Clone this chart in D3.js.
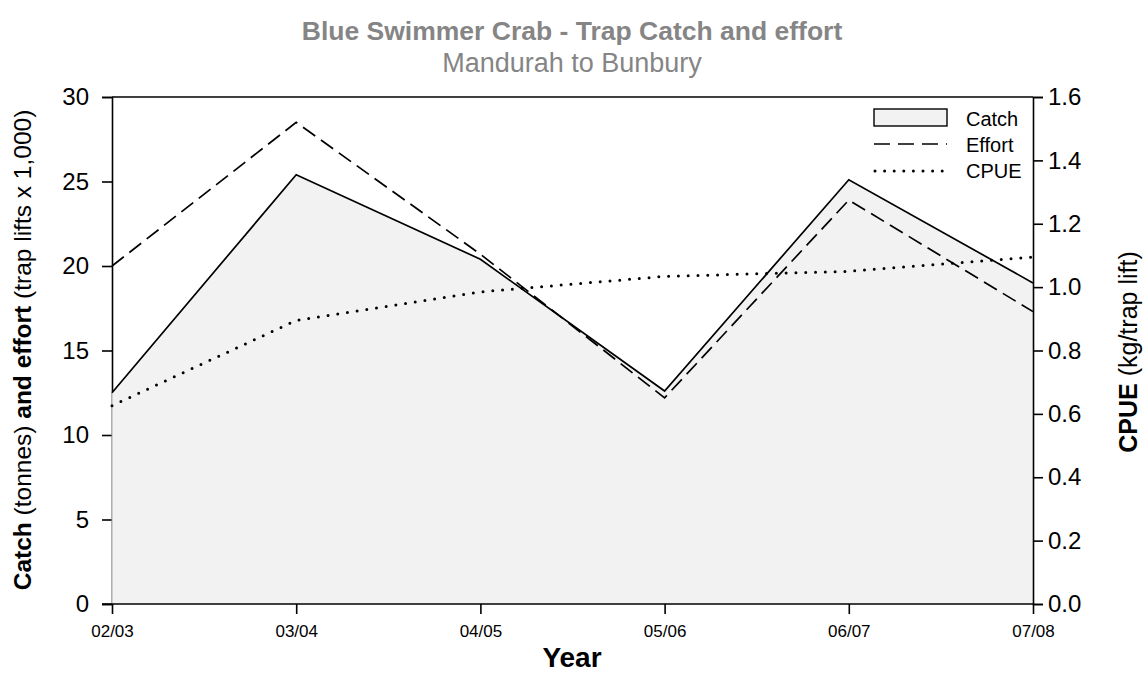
<!DOCTYPE html>
<html>
<head>
<meta charset="utf-8">
<script src="https://cdn.jsdelivr.net/npm/d3@7"></script>
<style>
  html, body { margin: 0; padding: 0; background: #fff; }
  svg { display: block; font-family: "Liberation Sans", Arial, sans-serif; }
</style>
</head>
<body>
<svg id="chart" width="1148" height="696"></svg>
<script>
// Seasons and series
const years = ["02/03", "03/04", "04/05", "05/06", "06/07", "07/08"];
const catchTonnes = [12.5, 25.4, 20.4, 12.6, 25.1, 19.0];
const effortLifts = [20.0, 28.5, 20.7, 12.2, 23.9, 17.3];
const cpue = [0.626, 0.895, 0.985, 1.034, 1.05, 1.095];
const leftTicks = [0, 5, 10, 15, 20, 25, 30];
const rightTicks = [0, 0.2, 0.4, 0.6, 0.8, 1.0, 1.2, 1.4, 1.6];

const svg = d3.select("#chart");
const plot = { left: 112, right: 1033, top: 97, bottom: 604 };

const x = d3.scalePoint().domain(years).range([plot.left, plot.right]);
const yL = d3.scaleLinear().domain([0, 30]).range([plot.bottom, plot.top]);
const yR = d3.scaleLinear().domain([0, 1.6]).range([plot.bottom, plot.top]);

const rows = years.map((yr, i) => ({ yr, c: catchTonnes[i], e: effortLifts[i], p: cpue[i] }));

// Titles
svg.append("text").attr("x", 572).attr("y", 40).attr("text-anchor", "middle")
  .attr("fill", "#858585").attr("font-weight", "bold").attr("font-size", 26.5)
  .text("Blue Swimmer Crab - Trap Catch and effort");
svg.append("text").attr("x", 572).attr("y", 72).attr("text-anchor", "middle")
  .attr("fill", "#858585").attr("font-size", 27)
  .text("Mandurah to Bunbury");

// Left axis (the catch area is painted over it)
const leftAxis = svg.append("g").attr("transform", `translate(${plot.left},0)`)
  .call(d3.axisLeft(yL).tickValues(leftTicks).tickSize(10).tickPadding(13).tickFormat(d3.format("d")));
leftAxis.selectAll("path, line").attr("stroke", "#000").attr("stroke-width", 1.6);
leftAxis.selectAll("text").attr("font-size", 24).attr("fill", "#000").attr("font-family", "inherit");

// Top frame
svg.append("line").attr("x1", plot.left).attr("x2", plot.right)
  .attr("y1", plot.top).attr("y2", plot.top).attr("stroke", "#000").attr("stroke-width", 1.6);

// Catch area
const area = d3.area().x(d => x(d.yr)).y0(yL(0)).y1(d => yL(d.c));
svg.append("path").datum(rows).attr("d", area).attr("fill", "#f2f2f2").attr("stroke", "none");
svg.append("line").attr("x1", plot.left).attr("x2", plot.left)
  .attr("y1", yL(0)).attr("y2", yL(catchTonnes[0])).attr("stroke", "#aaa").attr("stroke-width", 1);

// Right axis
const rightAxis = svg.append("g").attr("transform", `translate(${plot.right},0)`)
  .call(d3.axisRight(yR).tickValues(rightTicks).tickSize(10).tickPadding(5).tickFormat(d3.format(".1f")));
rightAxis.selectAll("path, line").attr("stroke", "#000").attr("stroke-width", 1.6);
rightAxis.selectAll("text").attr("font-size", 24).attr("fill", "#000").attr("font-family", "inherit");

// Bottom axis
const bottomAxis = svg.append("g").attr("transform", `translate(0,${plot.bottom})`)
  .call(d3.axisBottom(x).tickSize(10).tickPadding(11));
bottomAxis.select(".domain").attr("d", `M${plot.left - 10},0H${plot.right}`);
bottomAxis.selectAll("path, line").attr("stroke", "#000").attr("stroke-width", 1.6);
bottomAxis.selectAll("text").attr("font-size", 17).attr("fill", "#000").attr("font-family", "inherit");

// Lines
const lineCatch = d3.line().x(d => x(d.yr)).y(d => yL(d.c));
const lineEffort = d3.line().x(d => x(d.yr)).y(d => yL(d.e));
const lineCpue = d3.line().x(d => x(d.yr)).y(d => yR(d.p));

svg.append("path").datum(rows).attr("d", lineCatch)
  .attr("fill", "none").attr("stroke", "#000").attr("stroke-width", 1.7);
svg.append("path").datum(rows).attr("d", lineEffort)
  .attr("fill", "none").attr("stroke", "#000").attr("stroke-width", 1.7)
  .attr("stroke-dasharray", "15,7");
svg.append("path").datum(rows).attr("d", lineCpue)
  .attr("fill", "none").attr("stroke", "#000").attr("stroke-width", 3)
  .attr("stroke-linecap", "round").attr("stroke-dasharray", "0,9.8");

// Legend
const lg = svg.append("g");
lg.append("rect").attr("x", 874).attr("y", 109).attr("width", 73).attr("height", 17)
  .attr("fill", "#f2f2f2").attr("stroke", "#000").attr("stroke-width", 1.4);
lg.append("line").attr("x1", 874).attr("x2", 947).attr("y1", 144).attr("y2", 144)
  .attr("stroke", "#000").attr("stroke-width", 1.6).attr("stroke-dasharray", "16,8");
lg.append("line").attr("x1", 875).attr("x2", 944).attr("y1", 171).attr("y2", 171)
  .attr("stroke", "#000").attr("stroke-width", 3).attr("stroke-linecap", "round")
  .attr("stroke-dasharray", "0,9.6");
[["Catch", 126], ["Effort", 152], ["CPUE", 178]].forEach(([t, yy]) => {
  lg.append("text").attr("x", 966).attr("y", yy).attr("font-size", 20).attr("fill", "#000").text(t);
});

// Axis titles
const lt = svg.append("text").attr("transform", "translate(31,350) rotate(-90)")
  .attr("text-anchor", "middle").attr("font-size", 24.5).attr("fill", "#000");
lt.append("tspan").attr("font-weight", "bold").text("Catch");
lt.append("tspan").text(" (tonnes) ");
lt.append("tspan").attr("font-weight", "bold").text("and effort");
lt.append("tspan").text(" (trap lifts x 1,000)");

const rt = svg.append("text").attr("transform", "translate(1137,352) rotate(-90)")
  .attr("text-anchor", "middle").attr("font-size", 25).attr("fill", "#000");
rt.append("tspan").attr("font-weight", "bold").text("CPUE");
rt.append("tspan").text(" (kg/trap lift)");

svg.append("text").attr("x", 572).attr("y", 667).attr("text-anchor", "middle")
  .attr("font-size", 28).attr("font-weight", "bold").attr("fill", "#000").text("Year");
</script>
</body>
</html>
